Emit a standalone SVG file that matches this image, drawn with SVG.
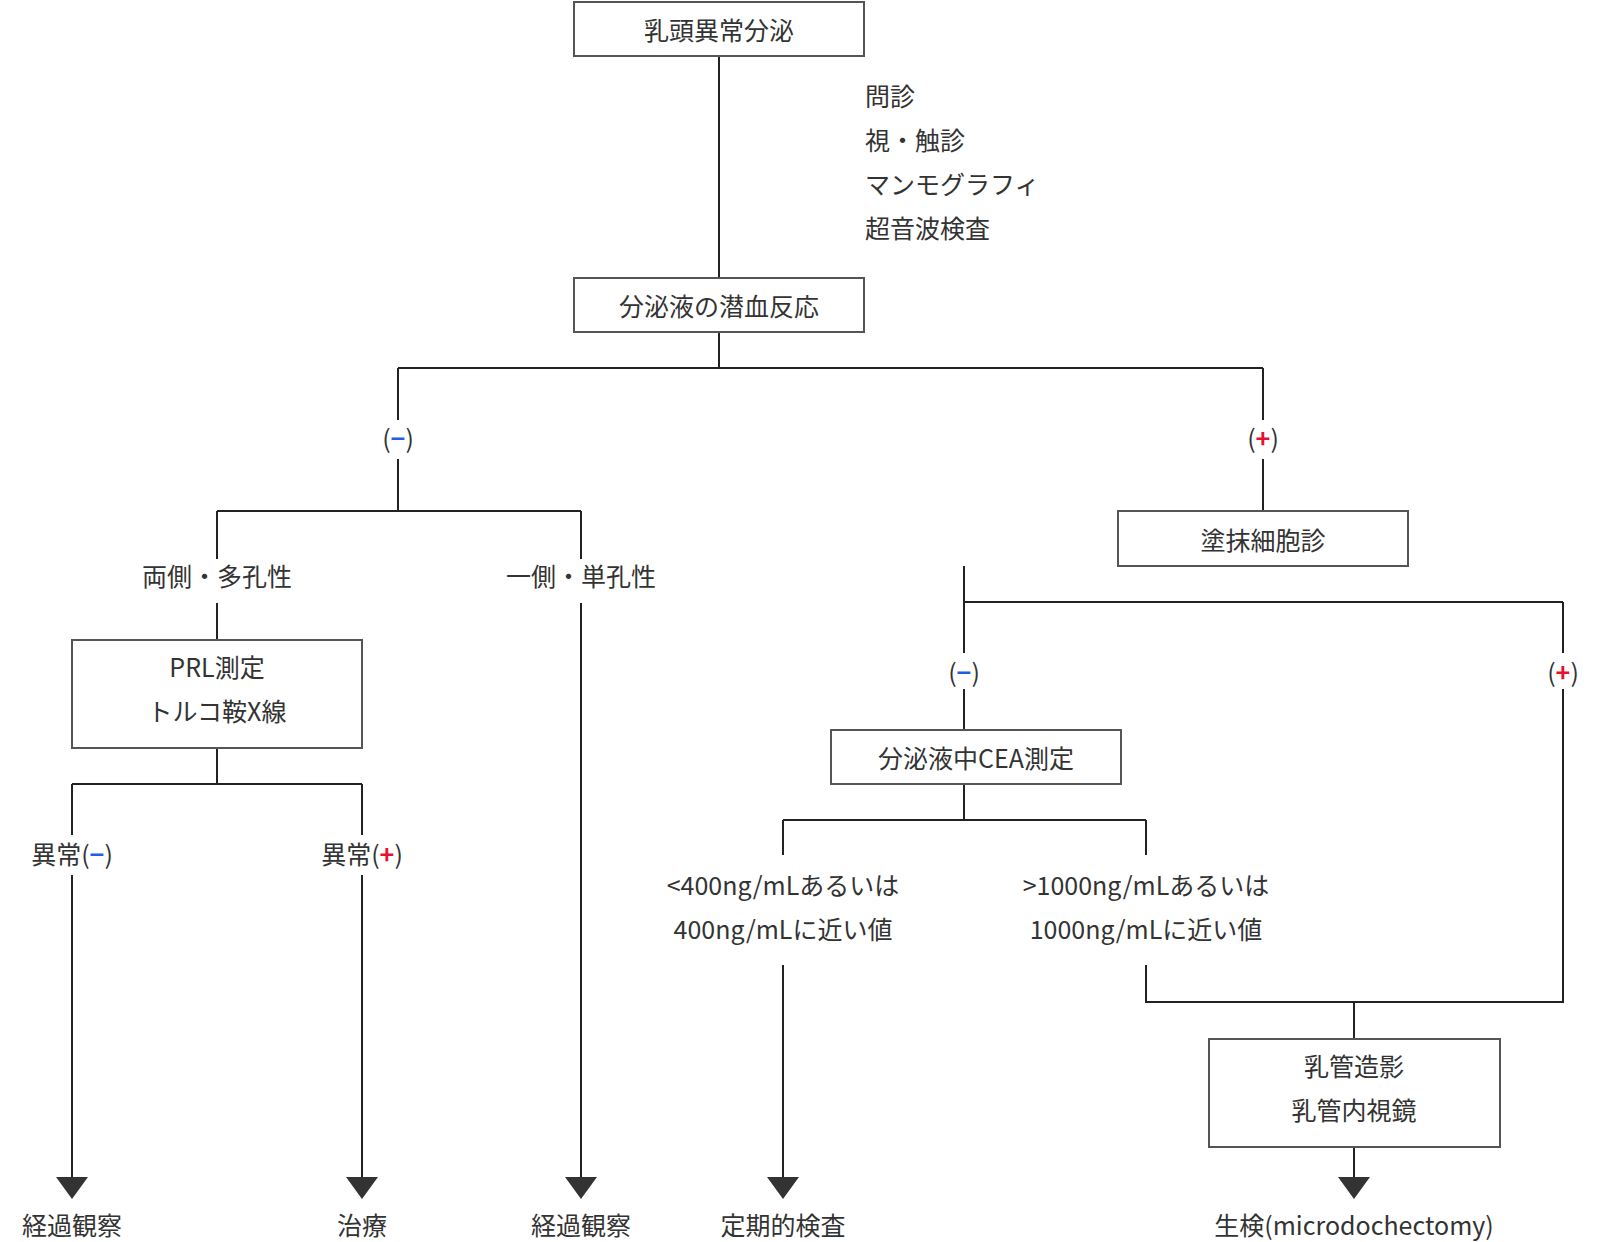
<svg xmlns="http://www.w3.org/2000/svg" width="1600" height="1242" viewBox="0 0 1600 1242">
<style>
text{font-family:"Noto Sans CJK JP","Noto Sans",sans-serif;font-size:25px;fill:#333;text-anchor:middle;dominant-baseline:central}
.l{text-anchor:start}
rect{fill:#fff;stroke:#555;stroke-width:2}
#conn path{fill:none;stroke:#222;stroke-width:2}
.m{fill:#1f5fe8;font-weight:bold}
.p{fill:#e8102e;font-weight:bold}
</style>
<defs><marker id="a" markerWidth="32" markerHeight="22" refX="16" refY="22" markerUnits="userSpaceOnUse" orient="auto"><path d="M0,0 L32,0 L16,22 Z" fill="#333" transform="rotate(0)"/></marker></defs>
<g id="conn">
<path d="M719,56V278M719,332V368M398,368H1263M398,368V420M398,459V511M1263,368V420M1263,459V511"/>
<path d="M217,511H581M217,511V559M217,603V640M581,511V559"/>
<path d="M217,748V784M72,784H362M72,784V835M362,784V835"/>
<path d="M964,566V602M964,602H1563M964,602V653M964,689V730M1563,602V653"/>
<path d="M964,784V820M783,820H1146M783,820V855M1146,820V855M1146,965V1002H1563V689M1354,1002V1039"/>
</g>
<g id="arrows" fill="#333">
<path d="M72,875V1178M362,875V1178M581,603V1178M783,965V1178M1354,1147V1178" stroke="#222" stroke-width="2"/>
<path d="M56,1177H88L72,1199ZM346,1177H378L362,1199ZM565,1177H597L581,1199ZM767,1177H799L783,1199ZM1338,1177H1370L1354,1199Z"/>
</g>
<g id="n1"><rect x="574" y="2" width="290" height="54"/><text x="719" y="29">乳頭異常分泌</text></g>
<g id="exams"><text class="l" x="865" y="95">問診</text><text class="l" x="865" y="139">視・触診</text><text class="l" x="865" y="183">マンモグラフィ</text><text class="l" x="865" y="227">超音波検査</text></g>
<g id="n2"><rect x="574" y="278" width="290" height="54"/><text x="719" y="305">分泌液の潜血反応</text></g>
<g id="lm1"><text x="398" y="437">(<tspan class="m">−</tspan>)</text></g>
<g id="lp1"><text x="1263" y="437">(<tspan class="p">+</tspan>)</text></g>
<g id="l2a"><text x="217" y="575">両側・多孔性</text></g>
<g id="l2b"><text x="581" y="575">一側・単孔性</text></g>
<g id="n3"><rect x="72" y="640" width="290" height="108"/><text x="217" y="666">PRL測定</text><text x="217" y="710">トルコ鞍X線</text></g>
<g id="l3a"><text x="72" y="853">異常(<tspan class="m">−</tspan>)</text></g>
<g id="l3b"><text x="362" y="853">異常(<tspan class="p">+</tspan>)</text></g>
<g id="n4"><rect x="1118" y="511" width="290" height="55"/><text x="1263" y="539">塗抹細胞診</text></g>
<g id="lm2"><text x="964" y="671">(<tspan class="m">−</tspan>)</text></g>
<g id="lp2"><text x="1563" y="671">(<tspan class="p">+</tspan>)</text></g>
<g id="n5"><rect x="831" y="730" width="290" height="54"/><text x="976" y="757">分泌液中CEA測定</text></g>
<g id="l5a"><text x="783" y="884">&lt;400ng/mLあるいは</text><text x="783" y="928">400ng/mLに近い値</text></g>
<g id="l5b"><text x="1146" y="884">&gt;1000ng/mLあるいは</text><text x="1146" y="928">1000ng/mLに近い値</text></g>
<g id="n6"><rect x="1209" y="1039" width="291" height="108"/><text x="1354" y="1065">乳管造影</text><text x="1354" y="1109">乳管内視鏡</text></g>
<g id="e1"><text x="72" y="1224">経過観察</text></g>
<g id="e2"><text x="362" y="1224">治療</text></g>
<g id="e3"><text x="581" y="1224">経過観察</text></g>
<g id="e4"><text x="783" y="1224">定期的検査</text></g>
<g id="e5"><text x="1354" y="1224">生検(microdochectomy)</text></g>
</svg>
